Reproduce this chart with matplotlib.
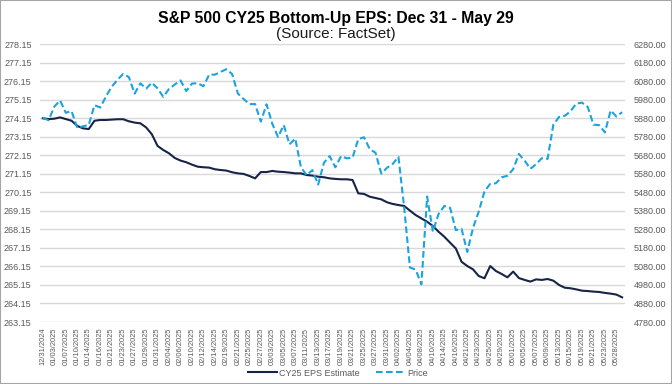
import matplotlib
matplotlib.use("Agg")
import matplotlib.pyplot as plt
import matplotlib.patches as mpatches
import pandas as pd
import numpy as np

plt.rcParams['font.family'] = ['Liberation Sans', 'DejaVu Sans']

# Trading days 12/31/2024 - 05/29/2025
holidays = ["2025-01-01", "2025-01-09", "2025-01-20", "2025-02-17",
            "2025-04-18", "2025-05-26"]
dates = pd.bdate_range("2024-12-31", "2025-05-29", freq="C", holidays=holidays)
date_labels = [d.strftime("%m/%d/%Y") for d in dates]

eps = [274.14, 274.10, 274.12, 274.19, 274.10, 274.01, 273.73, 273.60, 273.56, 274.01,
       274.05, 274.05, 274.07, 274.09, 274.09, 273.98, 273.91, 273.87, 273.65, 273.28,
       272.65, 272.43, 272.25, 272.00, 271.86, 271.77, 271.64, 271.53, 271.50, 271.48,
       271.39, 271.35, 271.32, 271.23, 271.17, 271.14, 271.03, 270.90, 271.24, 271.24,
       271.30, 271.26, 271.24, 271.21, 271.17, 271.17, 271.08, 271.05, 270.99, 270.96,
       270.90, 270.87, 270.85, 270.85, 270.81, 270.09, 270.06, 269.91, 269.84, 269.77,
       269.61, 269.52, 269.46, 269.41, 269.16, 268.92, 268.74, 268.56, 268.33, 268.02,
       267.75, 267.43, 267.12, 266.40, 266.17, 265.99, 265.63, 265.51, 266.17, 265.90,
       265.74, 265.56, 265.87, 265.52, 265.42, 265.33, 265.45, 265.42, 265.47, 265.38,
       265.15, 265.00, 264.97, 264.91, 264.84, 264.82, 264.79, 264.77, 264.72, 264.68,
       264.63, 264.48]

price = [5881.63, 5868.55, 5942.47, 5975.38, 5909.03, 5918.25, 5827.04, 5836.22, 5842.91, 5949.91,
         5937.34, 5996.66, 6049.24, 6086.37, 6118.71, 6101.24, 6012.28, 6067.70, 6039.31, 6071.17,
         6040.53, 5994.57, 6037.88, 6061.48, 6083.57, 6025.99, 6066.44, 6068.50, 6051.97, 6115.07,
         6114.63, 6129.58, 6144.15, 6117.52, 6013.13, 5983.25, 5955.25, 5956.06, 5861.57, 5954.50,
         5849.72, 5778.15, 5842.63, 5738.52, 5770.20, 5614.56, 5572.07, 5599.30, 5521.52, 5638.94,
         5675.12, 5614.66, 5675.29, 5662.89, 5667.56, 5767.57, 5776.65, 5712.20, 5693.31, 5580.94,
         5611.85, 5633.07, 5670.97, 5396.52, 5074.08, 5062.25, 4982.77, 5456.90, 5268.05, 5363.36,
         5405.97, 5396.63, 5275.70, 5282.70, 5158.20, 5287.76, 5375.86, 5484.77, 5525.21, 5528.75,
         5560.83, 5569.06, 5604.14, 5686.67, 5650.38, 5606.91, 5631.28, 5663.94, 5659.91, 5844.19,
         5886.55, 5892.58, 5916.93, 5958.38, 5963.60, 5940.46, 5844.61, 5842.01, 5802.82, 5921.54,
         5888.55, 5912.17]

eps_ticks = [263.15 + i for i in range(16)]
price_ticks = [4780 + 100 * i for i in range(16)]

title = "S&P 500 CY25 Bottom-Up EPS: Dec 31 - May 29"
subtitle = "(Source: FactSet)"

navy = "#172448"
blue = "#1BA3E0"
grid = "#D9D9D9"
txt = "#595959"

fig = plt.figure(figsize=(6.72, 3.84), dpi=100)
fig.patch.set_facecolor("white")
ax = fig.add_axes([40/672, 1 - 322/384, 585/672, 278/384])
ax2 = ax.twinx()

x = np.arange(len(dates))
l1, = ax.plot(x, eps, color=navy, lw=1.5, label="CY25 EPS Estimate", zorder=3)
l2, = ax2.plot(x, price, color=blue, lw=1.5, ls=(0, (3.2, 1.6)), label="Price", zorder=3)

ax.set_xlim(-0.5, len(dates) - 0.5)
ax.set_ylim(263.15, 278.15)
ax2.set_ylim(4780, 6280)
ax.set_yticks(eps_ticks)
ax.set_yticklabels([f"{v:.2f}" for v in eps_ticks])
ax2.set_yticks(price_ticks)
ax2.set_yticklabels([f"{v:.2f}" for v in price_ticks])
ax.set_xticks(x[::2])
ax.set_xticklabels(date_labels[::2], rotation=90, fontsize=5.4, color=txt)

ax.grid(axis="y", color=grid, lw=1)
ax.set_axisbelow(True)
for a in (ax, ax2):
    for s in a.spines.values():
        s.set_visible(False)
ax.tick_params(axis="y", length=0, pad=6, labelsize=6.5, labelcolor=txt)
ax2.tick_params(axis="y", length=0, pad=6, labelsize=6.5, labelcolor=txt)
ax.tick_params(axis="x", length=0, pad=4)

fig.text(0.5, 1 - 18/384, title, ha="center", va="center", fontsize=11.3, fontweight="bold", color="#000000")
fig.text(0.5, 1 - 34/384, subtitle, ha="center", va="center", fontsize=11, color="#1a1a1a")

fig.legend(handles=[l1, l2], loc="center", bbox_to_anchor=(0.503, 1 - 373/384), ncol=2,
           frameon=False, fontsize=6.5, handlelength=3.2, columnspacing=1.8,
           handletextpad=0.3, labelcolor=txt)

fig.patches.append(mpatches.Rectangle((0, 0), 1, 1, transform=fig.transFigure,
                                      fill=False, edgecolor="#A6A6A6", lw=1.5))

fig.savefig("out.png", dpi=100)
